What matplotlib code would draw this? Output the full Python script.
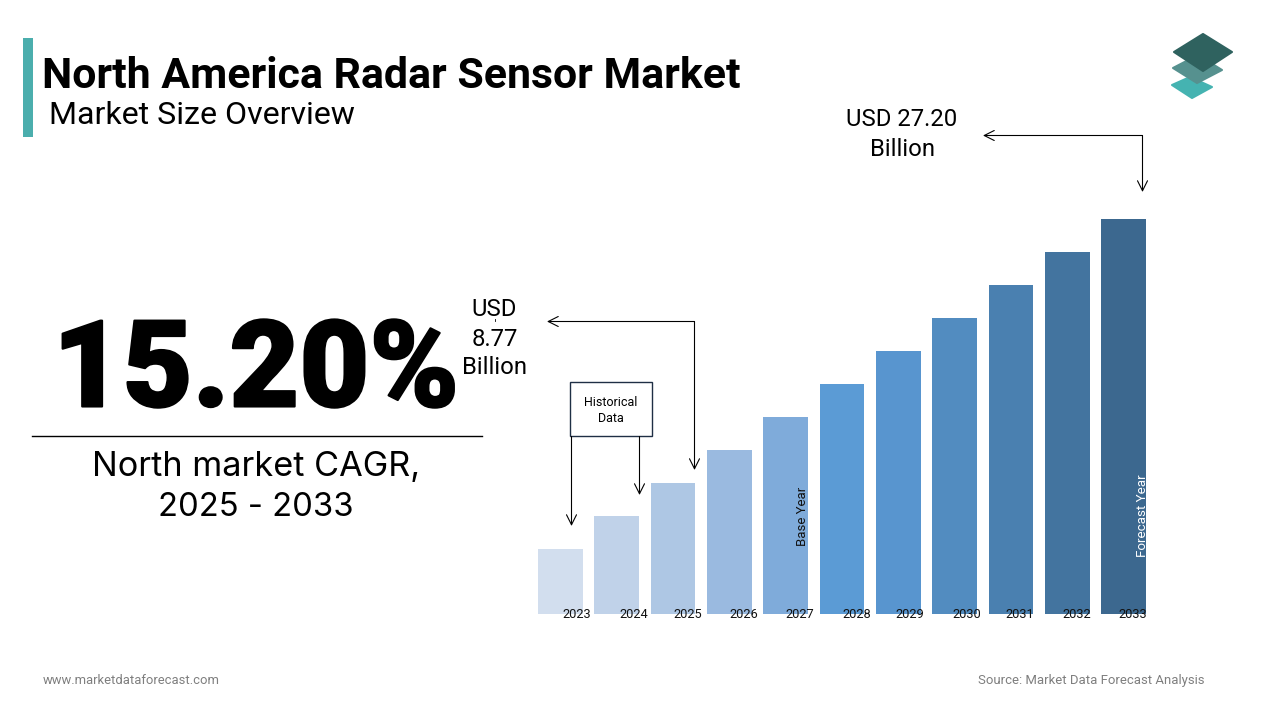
import matplotlib
matplotlib.use("Agg")
import matplotlib.pyplot as plt
import matplotlib.patheffects as pe
from matplotlib.patches import Rectangle, Polygon

years = ["2023", "2024", "2025", "2026", "2027", "2028", "2029", "2030", "2031", "2032", "2033"]
market_size = [4.48, 6.75, 9.02, 11.29, 13.56, 15.84, 18.11, 20.38, 22.65, 24.93, 27.20]
bar_colors = ["#D2DEEE", "#C0D2E9", "#AEC7E4", "#9ABAE0", "#7FABDA", "#5B9BD5",
              "#5895CF", "#528CC0", "#4A80B0", "#43749F", "#3C688F"]
year_label_x = [577, 633.5, 687.5, 743.5, 800, 857, 910, 967, 1020, 1077, 1133]

W, H = 1280, 720
plt.rcParams["font.family"] = ["Roboto", "DejaVu Sans"]

fig = plt.figure(figsize=(12.8, 7.2), dpi=100, facecolor="white")

# bars go on their own axes, lined up with the pixel layout
bar_left, bar_right, bar_top, bar_base = 538, 1146, 219, 614
ax = fig.add_axes([bar_left / W, 1 - bar_base / H, (bar_right - bar_left) / W, (bar_base - bar_top) / H])
ax.bar(range(len(years)), market_size, width=0.79, color=bar_colors)
ax.set_xlim(-0.395, 10.395)
ax.set_ylim(0, 27.20)
ax.axis("off")

# overlay in pixel coordinates for everything else
ov = fig.add_axes([0, 0, 1, 1], zorder=5)
ov.set_xlim(0, W)
ov.set_ylim(H, 0)
ov.axis("off")
ov.patch.set_alpha(0)

# header
ov.add_patch(Rectangle((23, 38), 10, 99, color="#4BAEAD", lw=0))
ov.text(42, 77, "North America Radar Sensor Market", fontsize=30.85, fontweight="bold",
        va="center", ha="left", color="black")
ov.text(49, 115, "Market Size Overview", fontsize=23.1, va="center", ha="left", color="black")

# logo
ov.add_patch(Polygon([(1172, 85), (1190, 77), (1212, 87), (1192, 98)], closed=True,
                     fc="#45B3B1", ec="#45B3B1", lw=1.5, joinstyle="round"))
ov.add_patch(Polygon([(1173, 68), (1198, 55), (1222, 70), (1197, 83)], closed=True,
                     fc="#56918F", ec="#56918F", lw=1.5, joinstyle="round"))
ov.add_patch(Polygon([(1174, 52), (1203, 34), (1232, 52), (1203, 71)], closed=True,
                     fc="#2F625F", ec="#2F625F", lw=1.5, joinstyle="round"))

# big number block
big = ov.text(256, 374, "15.20%", fontsize=87, fontweight="black",
              va="center", ha="center", color="black")
big.set_path_effects([pe.withStroke(linewidth=1.5, foreground="black")])
ov.plot([32, 482], [436, 436], color="black", lw=1)
ov.text(256, 467, "North market CAGR,", fontsize=24.7, family=["Inter", "DejaVu Sans"],
        va="center", ha="center", color="black")
ov.text(256, 507, "2025 - 2033", fontsize=23.6, family=["Inter", "DejaVu Sans"],
        va="center", ha="center", color="black")

# callouts
arrow = dict(arrowstyle="->", color="black", lw=0.8, mutation_scale=18, shrinkA=0, shrinkB=0)

ov.text(902, 120, "USD 27.20", fontsize=17.2, va="center", ha="center")
ov.text(902, 150, "Billion", fontsize=17.2, va="center", ha="center")
ov.annotate("", xy=(983, 135.5), xytext=(1142.5, 135.5), arrowprops=arrow)
ov.annotate("", xy=(1142.5, 192), xytext=(1142.5, 135.5), arrowprops=arrow)

ov.text(494, 310, "USD", fontsize=17.2, va="center", ha="center")
ov.text(494.5, 340, "8.77", fontsize=17.2, va="center", ha="center")
ov.text(494, 368, "Billion", fontsize=17.2, va="center", ha="center")
ov.plot([494.5, 494.5], [319, 321], color="black", lw=0.6)
ov.annotate("", xy=(547, 321.5), xytext=(694.5, 321.5), arrowprops=arrow)
ov.annotate("", xy=(694.5, 470), xytext=(694.5, 321.5), arrowprops=arrow)

ov.add_patch(Rectangle((570, 382), 82, 54, fc="white", ec="#1F2F45", lw=1, zorder=3))
ov.text(611, 402.5, "Historical", fontsize=9, va="center", ha="center", zorder=4)
ov.text(611, 418, "Data", fontsize=9, va="center", ha="center", zorder=4)
ov.annotate("", xy=(571.5, 526), xytext=(571.5, 436.5), arrowprops=arrow)
ov.annotate("", xy=(639.5, 495), xytext=(639.5, 436.5), arrowprops=arrow)

# year labels and rotated notes
for label, x in zip(years, year_label_x):
    ov.text(x, 614.5, label, fontsize=9.2, va="center", ha="center", color="#111111")
ov.text(802.5, 516, "Base Year", fontsize=9.5, rotation=90, va="center", ha="center", color="#111111")
ov.text(1142, 516, "Forecast Year", fontsize=9.6, rotation=90, va="center", ha="center", color="white")

# footer
ov.text(43, 680, "www.marketdataforecast.com", fontsize=9.4, va="center", ha="left", color="#7F7F7F")
ov.text(1204, 680.5, "Source: Market Data Forecast Analysis", fontsize=9.45, va="center", ha="right", color="#7F7F7F")

fig.savefig("out.png", dpi=100)
